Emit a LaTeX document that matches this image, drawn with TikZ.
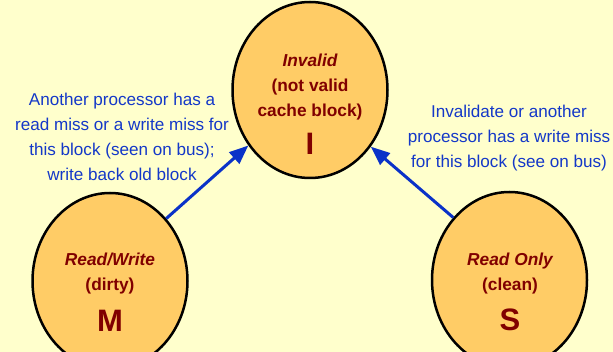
\documentclass[tikz,border=0pt]{standalone}
\usepackage{fontspec}
\setmainfont{Liberation Sans}
\usetikzlibrary{shapes.geometric,arrows.meta}

\definecolor{paper}{HTML}{FFFFCC}
\definecolor{statefill}{HTML}{FFCC66}
\definecolor{statetext}{HTML}{800000}
\definecolor{notecolor}{HTML}{1438C8}
\definecolor{arrowblue}{HTML}{0A32C8}

\begin{document}
\begin{tikzpicture}[x=1pt,y=-1pt,
  state/.style={ellipse, draw=black, line width=2.5pt, fill=statefill,
    minimum width=155pt, minimum height=176pt, inner sep=0pt},
  statelabel/.style={text=statetext, font=\fontsize{17.3}{25}\selectfont\bfseries,
    align=center, anchor=base, inner sep=0pt},
  stateletter/.style={text=statetext, font=\fontsize{31}{31}\selectfont\bfseries,
    anchor=base, inner sep=0pt},
  note/.style={text=notecolor, font=\fontsize{17.1}{25}\selectfont,
    align=center, anchor=base, inner sep=0pt},
  transition/.style={draw=arrowblue, line width=3pt,
    -{Triangle[length=19pt,width=15pt]}}
]
  % page and background
  \useasboundingbox (0,0) rectangle (613,352);
  \fill[paper] (0,0) rectangle (613,352);
  \clip (0,0) rectangle (613,352);

  % states
  \node[state] (I) at (310,90) {};
  \node[state] (M) at (110,281) {};
  \node[state] (S) at (509.5,280) {};

  % state texts (anchored at the baseline of the last line)
  \node[statelabel] (Itext) at (310,117) {{\itshape Invalid}\\(not valid\\cache block)};
  \node[stateletter] (Iletter) at (310,155) {I};
  \node[statelabel] (Mtext) at (110,291) {{\itshape Read/Write}\\(dirty)};
  \node[stateletter] (Mletter) at (110,332) {M};
  \node[statelabel] (Stext) at (510,291) {{\itshape Read Only}\\(clean)};
  \node[stateletter] (Sletter) at (510,331) {S};

  % transition notes
  \node[note] (Mnote) at (122,181) {Another processor has a\\read miss or a write miss for\\this block (seen on bus);\\write back old block};
  \node[note] (Snote) at (509,168) {Invalidate or another\\processor has a write miss\\for this block (see on bus)};

  % transitions
  \draw[transition] (M.48) -- (I.222);
  \draw[transition] (S.132.5) -- (I.317);
\end{tikzpicture}
\end{document}
